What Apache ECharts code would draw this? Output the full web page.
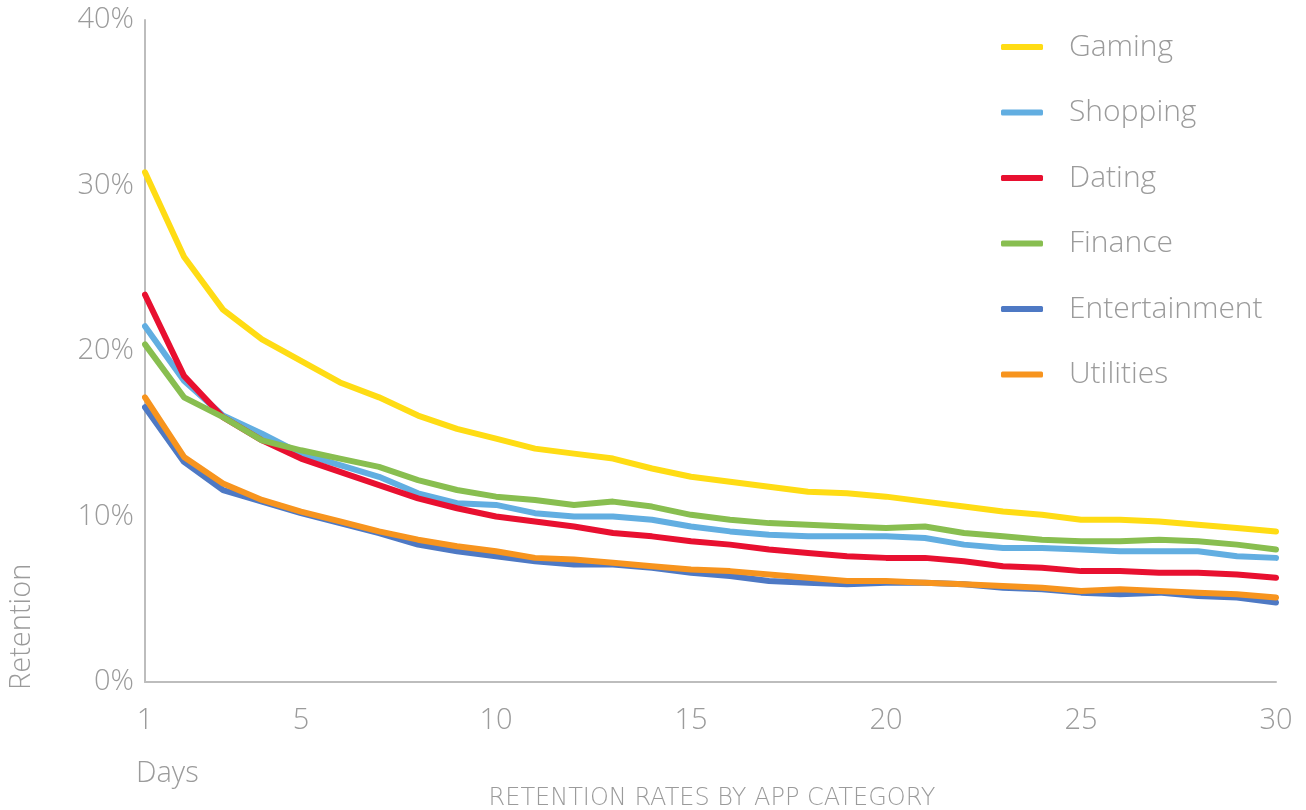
<!DOCTYPE html>
<html>
<head>
<meta charset="utf-8">
<style>
  html, body { margin: 0; padding: 0; background: #ffffff; }
  #chart { width: 1306px; height: 810px; }
</style>
<script src="https://cdn.jsdelivr.net/npm/echarts@6/dist/echarts.min.js"></script>
</head>
<body>
<div id="chart"></div>
<script>
// Day 1 .. Day 30
const days = Array.from({ length: 30 }, (_, i) => String(i + 1));
const dayTicks = ['1', '5', '10', '15', '20', '25', '30'];

// Retention (%) by app category
const gaming = [30.8, 25.7, 22.5, 20.7, 19.4, 18.1, 17.2, 16.1, 15.3, 14.7,
  14.1, 13.8, 13.5, 12.9, 12.4, 12.1, 11.8, 11.5, 11.4, 11.2,
  10.9, 10.6, 10.3, 10.1, 9.8, 9.8, 9.7, 9.5, 9.3, 9.1];
const shopping = [21.5, 18.2, 16.1, 15.0, 13.8, 13.1, 12.4, 11.4, 10.8, 10.7,
  10.2, 10.0, 10.0, 9.8, 9.4, 9.1, 8.9, 8.8, 8.8, 8.8,
  8.7, 8.3, 8.1, 8.1, 8.0, 7.9, 7.9, 7.9, 7.6, 7.5];
const dating = [23.4, 18.5, 16.0, 14.6, 13.5, 12.7, 11.9, 11.1, 10.5, 10.0,
  9.7, 9.4, 9.0, 8.8, 8.5, 8.3, 8.0, 7.8, 7.6, 7.5,
  7.5, 7.3, 7.0, 6.9, 6.7, 6.7, 6.6, 6.6, 6.5, 6.3];
const finance = [20.4, 17.2, 16.0, 14.6, 14.0, 13.5, 13.0, 12.2, 11.6, 11.2,
  11.0, 10.7, 10.9, 10.6, 10.1, 9.8, 9.6, 9.5, 9.4, 9.3,
  9.4, 9.0, 8.8, 8.6, 8.5, 8.5, 8.6, 8.5, 8.3, 8.0];
const entertainment = [16.6, 13.3, 11.6, 10.9, 10.2, 9.6, 9.0, 8.3, 7.9, 7.6,
  7.3, 7.1, 7.1, 6.9, 6.6, 6.4, 6.1, 6.0, 5.9, 6.0,
  6.0, 5.9, 5.7, 5.6, 5.4, 5.3, 5.4, 5.2, 5.1, 4.8];
const utilities = [17.2, 13.6, 12.0, 11.0, 10.3, 9.7, 9.1, 8.6, 8.2, 7.9,
  7.5, 7.4, 7.2, 7.0, 6.8, 6.7, 6.5, 6.3, 6.1, 6.1,
  6.0, 5.9, 5.8, 5.7, 5.5, 5.6, 5.5, 5.4, 5.3, 5.1];

const categories = ['Gaming', 'Shopping', 'Dating', 'Finance', 'Entertainment', 'Utilities'];
const colors = {
  Gaming: '#FFDC14',
  Shopping: '#62AEE1',
  Dating: '#E81030',
  Finance: '#88BE50',
  Entertainment: '#4E79C4',
  Utilities: '#F7941E'
};
const values = {
  Gaming: gaming,
  Shopping: shopping,
  Dating: dating,
  Finance: finance,
  Entertainment: entertainment,
  Utilities: utilities
};
// paint order, bottom to top
const drawOrder = ['Entertainment', 'Utilities', 'Shopping', 'Dating', 'Finance', 'Gaming'];

const FONT = '"Open Sans", Lato, sans-serif';
const GREY = '#9b9b9b';

const chart = echarts.init(document.getElementById('chart'), null, { renderer: 'canvas' });

chart.setOption({
  animation: false,
  backgroundColor: '#ffffff',
  textStyle: { fontFamily: FONT },
  grid: { left: 145, right: 30, top: 20, bottom: 128, containLabel: false },
  xAxis: {
    type: 'category',
    data: days,
    boundaryGap: false,
    axisLine: { lineStyle: { color: '#bdbdbd', width: 2 } },
    axisTick: { show: false },
    splitLine: { show: false },
    axisLabel: {
      interval: (idx, val) => dayTicks.includes(val),
      color: GREY,
      fontSize: 29,
      fontWeight: 300,
      fontFamily: FONT,
      margin: 24
    }
  },
  yAxis: {
    type: 'value',
    min: 0,
    max: 40,
    interval: 10,
    axisLine: { show: true, lineStyle: { color: '#bdbdbd', width: 2 } },
    axisTick: { show: false },
    splitLine: { show: false },
    axisLabel: {
      formatter: '{value}%',
      color: GREY,
      fontSize: 29,
      fontWeight: 300,
      fontFamily: FONT,
      margin: 11
    }
  },
  legend: {
    orient: 'vertical',
    left: 996,
    top: 25,
    data: categories.map(name => ({ name, icon: 'roundRect' })),
    itemWidth: 42,
    itemHeight: 6,
    itemGap: 31.5,
    textStyle: {
      color: GREY,
      fontSize: 30,
      fontWeight: 300,
      fontFamily: FONT,
      padding: [0, 0, 0, 21],
      lineHeight: 34
    }
  },
  series: drawOrder.map(name => ({
    name,
    type: 'line',
    data: values[name],
    symbol: 'none',
    smooth: false,
    color: colors[name],
    lineStyle: { width: 6, color: colors[name], cap: 'round', join: 'round' },
    emphasis: { disabled: true }
  })),
  graphic: [
    {
      type: 'text',
      left: 136,
      top: 759,
      style: { text: 'Days', fill: GREY, font: '300 29px ' + FONT }
    },
    {
      type: 'text',
      x: 7,
      y: 690,
      rotation: Math.PI / 2,
      style: { text: 'Retention', fill: GREY, font: '300 29px ' + FONT, verticalAlign: 'top', align: 'left' }
    },
    {
      type: 'text',
      x: 712,
      y: 787,
      style: {
        text: 'RETENTION RATES BY APP CATEGORY',
        fill: GREY,
        font: '200 24px "DejaVu Sans", ' + FONT,
        align: 'center',
        verticalAlign: 'top'
      }
    }
  ]
});
</script>
</body>
</html>
